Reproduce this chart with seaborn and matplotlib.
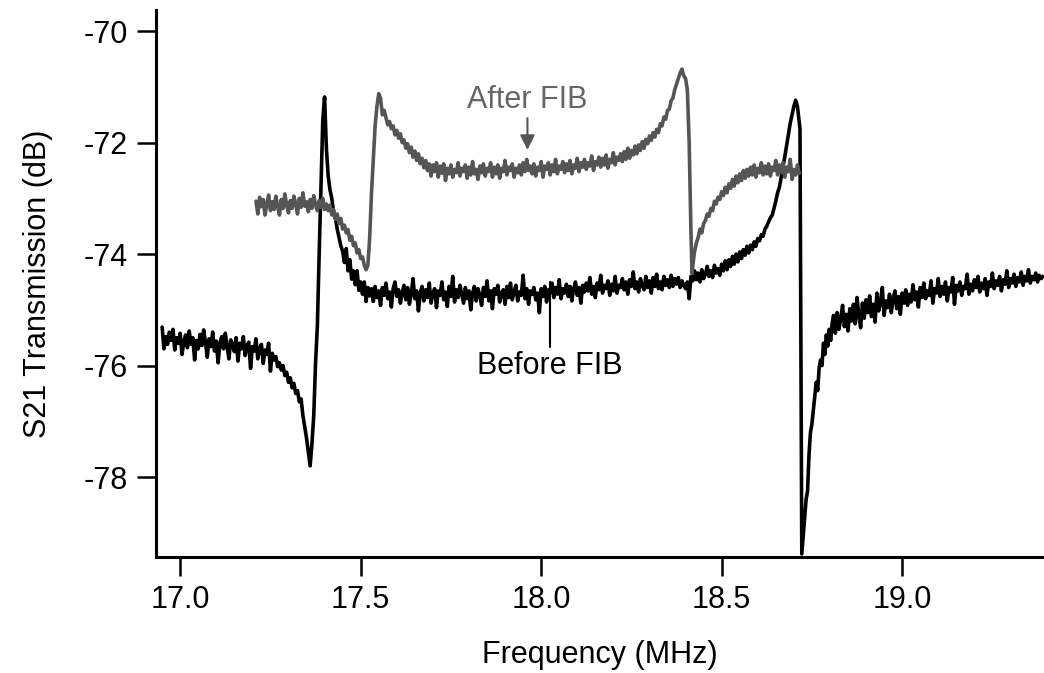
import numpy as np
import pandas as pd
import matplotlib
matplotlib.use("Agg")
import matplotlib.pyplot as plt
import seaborn as sns

# ---------------- data ----------------
# Before FIB (black trace): frequency (MHz) and S21 (dB)
before_freq = [
    16.950, 16.955, 16.960, 16.965, 16.970, 16.975, 16.980, 16.985, 16.990, 16.995,
    17.000, 17.005, 17.010, 17.015, 17.020, 17.025, 17.030, 17.035, 17.040, 17.045,
    17.050, 17.055, 17.060, 17.065, 17.070, 17.075, 17.080, 17.085, 17.090, 17.095,
    17.100, 17.105, 17.110, 17.115, 17.120, 17.125, 17.130, 17.135, 17.140, 17.145,
    17.150, 17.155, 17.160, 17.165, 17.170, 17.175, 17.180, 17.185, 17.190, 17.195,
    17.200, 17.205, 17.210, 17.215, 17.220, 17.225, 17.230, 17.235, 17.240, 17.245,
    17.250, 17.255, 17.260, 17.265, 17.270,
    17.275, 17.280, 17.285, 17.290, 17.295, 17.300, 17.305, 17.310, 17.315, 17.320,
    17.325, 17.330, 17.335, 17.340,
    17.345, 17.350, 17.355, 17.360, 17.365, 17.370, 17.375, 17.380, 17.385, 17.390,
    17.395, 17.400, 17.405, 17.410, 17.415, 17.420, 17.425, 17.430, 17.435, 17.440,
    17.445, 17.450, 17.455, 17.460, 17.465, 17.470, 17.475, 17.480, 17.485, 17.490,
    17.495, 17.500, 17.505, 17.510, 17.515, 17.520, 17.525,
    17.530, 17.535, 17.540, 17.545, 17.550, 17.555, 17.560, 17.565, 17.570, 17.575,
    17.580, 17.585, 17.590, 17.595, 17.600, 17.605, 17.610, 17.615, 17.620, 17.625,
    17.630, 17.635, 17.640, 17.645, 17.650, 17.655, 17.660, 17.665, 17.670, 17.675,
    17.680, 17.685, 17.690, 17.695, 17.700, 17.705, 17.710, 17.715, 17.720, 17.725,
    17.730, 17.735, 17.740, 17.745, 17.750, 17.755, 17.760, 17.765, 17.770, 17.775,
    17.780, 17.785, 17.790, 17.795, 17.800, 17.805, 17.810, 17.815, 17.820, 17.825,
    17.830, 17.835, 17.840, 17.845, 17.850, 17.855, 17.860, 17.865, 17.870, 17.875,
    17.880, 17.885, 17.890, 17.895, 17.900, 17.905, 17.910, 17.915, 17.920, 17.925,
    17.930, 17.935, 17.940, 17.945, 17.950, 17.955, 17.960, 17.965, 17.970, 17.975,
    17.980, 17.985, 17.990, 17.995, 18.000, 18.005, 18.010, 18.015, 18.020, 18.025,
    18.030, 18.035, 18.040, 18.045, 18.050, 18.055, 18.060, 18.065, 18.070, 18.075,
    18.080, 18.085, 18.090, 18.095, 18.100, 18.105, 18.110, 18.115, 18.120, 18.125,
    18.130, 18.135, 18.140, 18.145, 18.150, 18.155, 18.160, 18.165, 18.170, 18.175,
    18.180, 18.185, 18.190, 18.195, 18.200, 18.205, 18.210, 18.215, 18.220, 18.225,
    18.230, 18.235, 18.240, 18.245, 18.250, 18.255, 18.260, 18.265, 18.270, 18.275,
    18.280, 18.285, 18.290, 18.295, 18.300, 18.305, 18.310, 18.315, 18.320, 18.325,
    18.330, 18.335, 18.340, 18.345, 18.350, 18.355, 18.360, 18.365, 18.370, 18.375,
    18.380, 18.385, 18.390, 18.395, 18.400,
    18.405, 18.410, 18.415,
    18.420, 18.425, 18.430, 18.435, 18.440, 18.445, 18.450, 18.455, 18.460, 18.465,
    18.470, 18.475, 18.480, 18.485, 18.490, 18.495, 18.500, 18.505, 18.510, 18.515,
    18.520, 18.525, 18.530, 18.535, 18.540, 18.545, 18.550, 18.555, 18.560, 18.565,
    18.570, 18.575, 18.580, 18.585, 18.590, 18.595, 18.600,
    18.605, 18.610, 18.615, 18.620, 18.625, 18.630, 18.635, 18.640, 18.645, 18.650,
    18.655, 18.660, 18.665, 18.670, 18.675, 18.680, 18.685, 18.690, 18.695, 18.700,
    18.705, 18.710, 18.717,
    18.722, 18.726, 18.730, 18.734, 18.738, 18.742, 18.746, 18.750, 18.754, 18.758,
    18.762, 18.766, 18.770, 18.774, 18.778, 18.782, 18.786, 18.790, 18.794, 18.798,
    18.802, 18.806,
    18.810, 18.815, 18.820, 18.825, 18.830, 18.835, 18.840, 18.845, 18.850, 18.855,
    18.860, 18.865, 18.870, 18.875, 18.880, 18.885, 18.890, 18.895, 18.900, 18.905,
    18.910, 18.915, 18.920, 18.925, 18.930, 18.935, 18.940, 18.945, 18.950, 18.955,
    18.960, 18.965, 18.970, 18.975, 18.980, 18.985, 18.990, 18.995, 19.000, 19.005,
    19.010, 19.015, 19.020, 19.025, 19.030, 19.035, 19.040, 19.045, 19.050, 19.055,
    19.060, 19.065, 19.070, 19.075, 19.080, 19.085, 19.090, 19.095, 19.100, 19.105,
    19.110, 19.115, 19.120, 19.125, 19.130, 19.135, 19.140, 19.145, 19.150, 19.155,
    19.160, 19.165, 19.170, 19.175, 19.180, 19.185, 19.190, 19.195, 19.200, 19.205,
    19.210, 19.215, 19.220, 19.225, 19.230, 19.235, 19.240, 19.245, 19.250, 19.255,
    19.260, 19.265, 19.270, 19.275, 19.280, 19.285, 19.290, 19.295, 19.300, 19.305,
    19.310, 19.315, 19.320, 19.325, 19.330, 19.335, 19.340, 19.345, 19.350, 19.355,
    19.360, 19.365, 19.370, 19.375, 19.380, 19.385, 19.390,
]
before_db = [
    -75.31, -75.70, -75.48, -75.62, -75.40, -75.55, -75.35, -75.72, -75.50, -75.60,
    -75.42, -75.80, -75.58, -75.45, -75.68, -75.38, -75.62, -75.50, -75.90, -75.55,
    -75.70, -75.44, -75.64, -75.36, -75.58, -75.85, -75.52, -75.66, -75.40, -75.74,
    -75.56, -75.95, -75.60, -75.48, -75.70, -75.42, -75.66, -75.88, -75.54, -75.62,
    -75.75, -75.50, -75.92, -75.60, -75.70, -75.48, -75.82, -75.64, -75.58, -76.05,
    -75.66, -75.74, -75.52, -75.88, -75.70, -75.62, -75.96, -75.72, -75.80, -75.60,
    -76.10, -75.78, -75.90, -75.84, -76.02,
    -75.95, -76.08, -76.00, -76.18, -76.12, -76.30, -76.22, -76.40, -76.32, -76.50,
    -76.45, -76.65, -76.60, -76.90,
    -77.10, -77.30, -77.55, -77.80, -77.40, -76.90, -75.95, -75.30, -74.00, -72.80,
    -71.60, -71.18, -72.10, -72.60, -72.85, -73.00, -73.25, -73.35, -73.55, -73.70,
    -73.85, -73.95, -74.15, -73.90, -74.30, -74.10, -74.45, -74.30, -74.55, -74.30,
    -74.65, -74.50, -74.72, -74.50, -74.85, -74.60, -74.75,
    -74.62, -74.85, -74.58, -74.78, -74.66, -74.92, -74.60, -74.74, -74.52, -74.80,
    -74.68, -74.95, -74.62, -74.50, -74.76, -74.64, -74.88, -74.70, -74.56, -74.82,
    -74.60, -74.90, -74.72, -74.44, -74.80, -74.66, -75.02, -74.70, -74.58, -74.84,
    -74.64, -74.78, -74.52, -74.88, -74.70, -74.62, -74.96, -74.66, -74.74, -74.50,
    -74.82, -74.68, -74.94, -74.58, -74.76, -74.40, -74.86, -74.64, -74.78, -74.56,
    -74.72, -74.88, -74.60, -74.80, -74.66, -75.00, -74.70, -74.58, -74.84, -74.62,
    -74.74, -74.92, -74.60, -74.76, -74.48, -74.84, -74.66, -74.98, -74.62, -74.72,
    -74.56, -74.86, -74.70, -74.64, -74.90, -74.58, -74.78, -74.52, -74.82, -74.68,
    -74.56, -74.84, -74.68, -74.74, -74.38, -74.80, -74.62, -74.90, -74.66, -74.72,
    -74.60, -74.82, -74.70, -75.05, -74.62, -74.76, -74.58, -74.86, -74.64, -74.70,
    -74.52, -74.78, -74.60, -74.72, -74.46, -74.80, -74.62, -74.70, -74.54, -74.76,
    -74.58, -74.84, -74.62, -74.50, -74.74, -74.60, -74.88, -74.56, -74.68, -74.52,
    -74.66, -74.42, -74.72, -74.58, -74.78, -74.52, -74.64, -74.38, -74.70, -74.56,
    -74.62, -74.48, -74.74, -74.54, -74.66, -74.40, -74.70, -74.56, -74.60, -74.44,
    -74.64, -74.50, -74.72, -74.46, -74.58, -74.32, -74.62, -74.50, -74.68, -74.44,
    -74.56, -74.64, -74.40, -74.60, -74.48, -74.70, -74.42, -74.58, -74.36, -74.62,
    -74.50, -74.64, -74.40, -74.56, -74.46, -74.60, -74.38, -74.58, -74.44, -74.54,
    -74.42, -74.60, -74.48, -74.56, -74.62,
    -74.50, -74.80, -74.40,
    -74.48, -74.30, -74.46, -74.34, -74.50, -74.28, -74.44, -74.36, -74.22, -74.40,
    -74.30, -74.42, -74.20, -74.34, -74.26, -74.38, -74.18, -74.30, -74.12, -74.28,
    -74.10, -74.22, -74.04, -74.18, -74.00, -74.14, -73.96, -74.08, -73.92, -74.02,
    -73.86, -73.98, -73.84, -73.92, -73.78, -73.86, -73.72,
    -73.76, -73.65, -73.68, -73.55, -73.50, -73.42, -73.35, -73.30, -73.18, -73.05,
    -72.90, -72.80, -72.62, -72.45, -72.25, -72.05, -71.85, -71.65, -71.50, -71.35,
    -71.24, -71.35, -71.75,
    -79.38, -79.05, -78.70, -78.40, -78.25, -77.60, -77.20, -77.05, -76.80, -76.55,
    -76.30, -76.45, -76.05, -75.90, -76.00, -75.60, -75.80, -75.45, -75.65, -75.35,
    -75.55, -75.25,
    -75.10, -75.42, -75.05, -75.35, -75.15, -74.92, -75.30, -75.08, -75.38, -74.98,
    -75.20, -74.90, -75.25, -74.78, -75.10, -75.32, -74.88, -75.15, -74.82, -75.05,
    -74.75, -75.12, -74.90, -75.22, -74.70, -75.02, -74.86, -74.60, -75.10, -74.84,
    -74.96, -74.72, -75.05, -74.80, -74.66, -74.98, -74.76, -75.08, -74.70, -74.88,
    -74.64, -74.92, -74.72, -74.86, -74.55, -74.82, -74.68, -74.95, -74.60, -74.78,
    -74.52, -74.80, -74.66, -74.74, -74.48, -74.88, -74.62, -74.70, -74.44, -74.76,
    -74.58, -74.72, -74.50, -74.84, -74.60, -74.68, -74.42, -74.90, -74.56, -74.66,
    -74.50, -74.74, -74.58, -74.62, -74.36, -74.72, -74.54, -74.66, -74.46, -74.60,
    -74.40, -74.68, -74.52, -74.62, -74.44, -74.74, -74.50, -74.58, -74.34, -74.62,
    -74.48, -74.56, -74.40, -74.66, -74.46, -74.54, -74.30, -74.60, -74.44, -74.52,
    -74.36, -74.58, -74.42, -74.50, -74.32, -74.56, -74.40, -74.48, -74.28, -74.52,
    -74.40, -74.46, -74.34, -74.50, -74.38, -74.44, -74.40,
]

# After FIB (grey trace)
after_freq = [
    17.210, 17.215, 17.220, 17.225, 17.230, 17.235, 17.240, 17.245, 17.250, 17.255,
    17.260, 17.265, 17.270, 17.275, 17.280, 17.285, 17.290, 17.295, 17.300, 17.305,
    17.310, 17.315, 17.320, 17.325, 17.330, 17.335, 17.340, 17.345, 17.350, 17.355,
    17.360, 17.365, 17.370, 17.375, 17.380, 17.385, 17.390, 17.395, 17.400, 17.405,
    17.410, 17.415, 17.420, 17.425, 17.430, 17.435, 17.440, 17.445, 17.450, 17.455,
    17.460, 17.465, 17.470, 17.475, 17.480, 17.485, 17.490, 17.495, 17.500, 17.505,
    17.510,
    17.515, 17.520, 17.525, 17.530, 17.535, 17.540, 17.545, 17.550, 17.555, 17.560,
    17.565,
    17.570, 17.575, 17.580, 17.585, 17.590, 17.595, 17.600, 17.605, 17.610, 17.615,
    17.620, 17.625, 17.630, 17.635, 17.640, 17.645, 17.650, 17.655, 17.660, 17.665,
    17.670, 17.675, 17.680, 17.685, 17.690, 17.695, 17.700, 17.705, 17.710, 17.715,
    17.720, 17.725, 17.730, 17.735, 17.740, 17.745, 17.750, 17.755, 17.760, 17.765,
    17.770, 17.775, 17.780, 17.785, 17.790, 17.795, 17.800, 17.805, 17.810, 17.815,
    17.820, 17.825, 17.830, 17.835, 17.840, 17.845, 17.850, 17.855, 17.860, 17.865,
    17.870, 17.875, 17.880, 17.885, 17.890, 17.895, 17.900, 17.905, 17.910, 17.915,
    17.920, 17.925, 17.930, 17.935, 17.940, 17.945, 17.950, 17.955, 17.960, 17.965,
    17.970, 17.975, 17.980, 17.985, 17.990, 17.995, 18.000, 18.005, 18.010, 18.015,
    18.020, 18.025, 18.030, 18.035, 18.040, 18.045, 18.050, 18.055, 18.060, 18.065,
    18.070, 18.075, 18.080, 18.085, 18.090, 18.095, 18.100, 18.105, 18.110, 18.115,
    18.120, 18.125, 18.130, 18.135, 18.140, 18.145, 18.150, 18.155, 18.160, 18.165,
    18.170, 18.175, 18.180, 18.185, 18.190, 18.195, 18.200, 18.205, 18.210, 18.215,
    18.220, 18.225, 18.230, 18.235, 18.240, 18.245, 18.250, 18.255, 18.260, 18.265,
    18.270, 18.275, 18.280, 18.285, 18.290, 18.295, 18.300, 18.305, 18.310, 18.315,
    18.320, 18.325, 18.330, 18.335, 18.340, 18.345, 18.350, 18.355, 18.360, 18.365,
    18.370, 18.375, 18.380, 18.385, 18.390, 18.395, 18.400, 18.405, 18.410, 18.415,
    18.418, 18.422,
    18.425, 18.430, 18.435, 18.440, 18.445, 18.450, 18.455, 18.460, 18.465, 18.470,
    18.475, 18.480, 18.485, 18.490, 18.495, 18.500, 18.505, 18.510, 18.515, 18.520,
    18.525, 18.530, 18.535, 18.540, 18.545, 18.550, 18.555, 18.560, 18.565, 18.570,
    18.575, 18.580, 18.585, 18.590, 18.595, 18.600, 18.605, 18.610, 18.615, 18.620,
    18.625, 18.630, 18.635, 18.640, 18.645, 18.650, 18.655, 18.660, 18.665, 18.670,
    18.675, 18.680, 18.685, 18.690, 18.695, 18.700, 18.705, 18.710, 18.715,
]
after_db = [
    -73.05, -73.28, -72.98, -73.15, -73.02, -73.30, -73.10, -72.94, -73.22, -73.06,
    -73.20, -72.96, -73.14, -73.30, -73.02, -73.18, -72.92, -73.12, -73.26, -73.04,
    -73.18, -72.96, -73.10, -73.28, -73.00, -73.16, -72.90, -73.14, -73.06, -73.24,
    -73.02, -73.18, -72.95, -73.12, -73.22, -73.04, -73.16, -73.00, -73.20, -73.10,
    -73.22, -73.12, -73.30, -73.20, -73.38, -73.28, -73.45, -73.36, -73.55, -73.48,
    -73.62, -73.56, -73.75, -73.68, -73.85, -73.80, -73.98, -73.92, -74.08, -74.05,
    -74.20,
    -74.28, -74.20, -73.70, -72.90, -72.30, -71.70, -71.35, -71.12, -71.20, -71.50,
    -71.42,
    -71.55, -71.68, -71.62, -71.75, -71.70, -71.86, -71.78, -71.92, -71.84, -72.00,
    -71.95, -72.10, -72.02, -72.18, -72.08, -72.26, -72.15, -72.32, -72.20, -72.38,
    -72.28, -72.45, -72.32, -72.50, -72.38, -72.60, -72.40, -72.52, -72.36, -72.62,
    -72.42, -72.55, -72.38, -72.68, -72.46, -72.56, -72.40, -72.62, -72.48, -72.54,
    -72.36, -72.60, -72.46, -72.52, -72.40, -72.64, -72.44, -72.58, -72.34, -72.56,
    -72.48, -72.66, -72.42, -72.54, -72.38, -72.60, -72.46, -72.52, -72.36, -72.62,
    -72.44, -72.56, -72.40, -72.64, -72.46, -72.52, -72.32, -72.58, -72.44, -72.50,
    -72.38, -72.62, -72.46, -72.54, -72.40, -72.58, -72.36, -72.52, -72.30, -72.50,
    -72.42, -72.56, -72.38, -72.60, -72.44, -72.50, -72.34, -72.62, -72.42, -72.48,
    -72.36, -72.58, -72.40, -72.52, -72.30, -72.56, -72.42, -72.48, -72.34, -72.54,
    -72.38, -72.50, -72.32, -72.56, -72.40, -72.46, -72.28, -72.52, -72.36, -72.44,
    -72.30, -72.48, -72.36, -72.42, -72.24, -72.50, -72.34, -72.40, -72.26, -72.44,
    -72.28, -72.40, -72.22, -72.46, -72.30, -72.36, -72.18, -72.40, -72.26, -72.32,
    -72.20, -72.34, -72.16, -72.30, -72.10, -72.28, -72.14, -72.22, -72.06, -72.20,
    -72.04, -72.14, -71.98, -72.10, -71.94, -72.02, -71.88, -71.96, -71.82, -71.90,
    -71.76, -71.82, -71.66, -71.70, -71.54, -71.58, -71.42, -71.40, -71.25, -71.20,
    -71.05, -70.95, -70.85, -70.75, -70.68, -70.80, -70.85, -71.05, -72.00, -73.60,
    -74.35, -74.10,
    -73.95, -73.80, -73.70, -73.55, -73.62, -73.45, -73.40, -73.28, -73.32, -73.18,
    -73.22, -73.05, -73.10, -72.98, -73.02, -72.88, -72.95, -72.80, -72.90, -72.74,
    -72.82, -72.66, -72.78, -72.60, -72.72, -72.56, -72.68, -72.50, -72.64, -72.48,
    -72.60, -72.44, -72.58, -72.40, -72.62, -72.46, -72.54, -72.36, -72.58, -72.42,
    -72.56, -72.38, -72.60, -72.44, -72.50, -72.32, -72.58, -72.40, -72.54, -72.36,
    -72.62, -72.44, -72.52, -72.30, -72.66, -72.48, -72.58, -72.40, -72.55,
]

x_ticks = [17.0, 17.5, 18.0, 18.5, 19.0]
x_tick_labels = ["17.0", "17.5", "18.0", "18.5", "19.0"]
y_ticks = [-78, -76, -74, -72, -70]
y_tick_labels = ["-78", "-76", "-74", "-72", "-70"]

# annotation anchor values (data coords)
after_label = (17.962, -71.24)
after_arrow = (17.962, -71.56, -72.13)
before_label = (18.025, -76.00)
before_line = (18.025, -74.50, -75.67)

assert len(before_freq) == len(before_db), (len(before_freq), len(before_db))
assert len(after_freq) == len(after_db), (len(after_freq), len(after_db))

# ---------------- plot ----------------
sns.set_theme(style="white")
plt.rcParams["font.family"] = ["Liberation Sans", "DejaVu Sans"]

FS = 22
BLACK = "#000000"
GREY = "#555555"

fig = plt.figure(figsize=(10.44, 6.73), dpi=100)
ax = fig.add_axes([156 / 1044, 116 / 673, 1 - 156 / 1044, (663 - 116) / 673])

before_df = pd.DataFrame({"freq": before_freq, "db": before_db})
after_df = pd.DataFrame({"freq": after_freq, "db": after_db})

sns.lineplot(data=before_df, x="freq", y="db", ax=ax, color=BLACK, lw=2.6,
             estimator=None, sort=False)
sns.lineplot(data=after_df, x="freq", y="db", ax=ax, color=GREY, lw=2.6,
             estimator=None, sort=False)

ax.set_xlim(16.933, 19.393)
ax.set_ylim(-79.435, -69.62)

ax.set_xticks(x_ticks)
ax.set_xticklabels(x_tick_labels)
ax.set_yticks(y_ticks)
ax.set_yticklabels(y_tick_labels)

for side in ["top", "right"]:
    ax.spines[side].set_visible(False)
for side in ["left", "bottom"]:
    ax.spines[side].set_linewidth(2.2)
    ax.spines[side].set_color(BLACK)

ax.tick_params(axis="both", which="major", direction="out", length=14,
               width=1.8, color=BLACK, labelsize=FS, labelcolor=BLACK, pad=6,
               bottom=True, left=True)

ax.set_xlabel("Frequency (MHz)", fontsize=FS, color=BLACK, labelpad=18)
ax.set_ylabel("S21 Transmission (dB)", fontsize=FS, color=BLACK, labelpad=22)

# annotations
ax.text(after_label[0], after_label[1], "After FIB", fontsize=FS, color="#666666",
        ha="center", va="center")
ax.annotate("", xy=(after_arrow[0], after_arrow[2]), xytext=(after_arrow[0], after_arrow[1]),
            arrowprops=dict(arrowstyle="-|>", color=GREY, lw=1.5, mutation_scale=22,
                            shrinkA=0, shrinkB=0))
ax.plot([before_line[0], before_line[0]], [before_line[1], before_line[2]],
        color=BLACK, lw=1.5)
ax.text(before_label[0], before_label[1], "Before FIB", fontsize=FS, color=BLACK,
        ha="center", va="center")

ax.set_facecolor("white")
fig.patch.set_facecolor("white")
fig.savefig("out.png", dpi=100, facecolor="white")
